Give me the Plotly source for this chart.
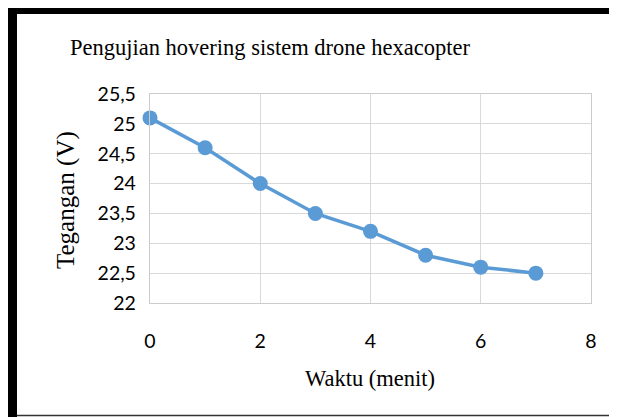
import plotly.graph_objects as go

waktu = [0, 1, 2, 3, 4, 5, 6, 7]
tegangan = [25.1, 24.6, 24.0, 23.5, 23.2, 22.8, 22.6, 22.5]

# page offset (body margin) of the screenshot
OFF = 8
W, H = 617, 417
L, R, T, B = 150 - OFF, 26 + OFF, 94 - OFF, 114 + OFF
PW, PH = W - L - R, H - T - B

def px(x):
    return (x - OFF - L) / PW

def py(y):
    return 1 - (y - OFF - T) / PH

fig = go.Figure()
fig.add_trace(go.Scatter(
    x=waktu, y=tegangan, mode="lines+markers",
    line=dict(color="#5b9bd5", width=3.5),
    marker=dict(color="#5b9bd5", size=15),
    cliponaxis=False, showlegend=False,
))

shapes = [
    dict(type="rect", xref="paper", yref="paper", x0=px(8), x1=px(17), y0=py(0), y1=py(H + 20), fillcolor="black", line_width=0),
    dict(type="rect", xref="paper", yref="paper", x0=px(8), x1=px(W + 20), y0=py(0), y1=py(14), fillcolor="black", line_width=0),
    dict(type="line", xref="paper", yref="paper", x0=px(17), x1=px(W + 20), y0=py(415.5), y1=py(415.5), line=dict(color="#333333", width=1.5)),
]

annotations = [
    dict(text="Pengujian hovering sistem drone hexacopter", xref="paper", yref="paper",
         x=px(270), y=py(48), showarrow=False, xanchor="center", yanchor="middle",
         font=dict(family="Liberation Serif", size=22.5, color="black")),
    dict(text="Tegangan (V)", xref="paper", yref="paper", x=px(66), y=py(200),
         showarrow=False, textangle=-90, xanchor="center", yanchor="middle",
         font=dict(family="Liberation Serif", size=25, color="black")),
    dict(text="Waktu (menit)", xref="paper", yref="paper", x=px(370), y=py(378),
         showarrow=False, xanchor="center", yanchor="middle",
         font=dict(family="Liberation Serif", size=22.5, color="black")),
]

fig.update_layout(
    width=W, height=H,
    margin=dict(l=L, r=R, t=T, b=B, pad=0),
    paper_bgcolor="white", plot_bgcolor="white",
    separators=",.",
    shapes=shapes, annotations=annotations,
    xaxis=dict(range=[0, 8], dtick=2, tick0=0, showgrid=True, gridcolor="#d9d9d9", gridwidth=1.3,
               zeroline=False, showline=True, linecolor="#cccccc", linewidth=1.3, mirror=True,
               ticks="", ticklabelstandoff=20,
               tickfont=dict(family="Lato", size=19.5, color="black")),
    yaxis=dict(range=[22, 25.5], dtick=0.5, tick0=22, showgrid=True, gridcolor="#d9d9d9", gridwidth=1.3,
               zeroline=False, showline=True, linecolor="#cccccc", linewidth=1.3, mirror=True,
               ticks="", ticklabelstandoff=9,
               tickfont=dict(family="Lato", size=19.5, color="black")),
)

fig.write_html("out.html")
